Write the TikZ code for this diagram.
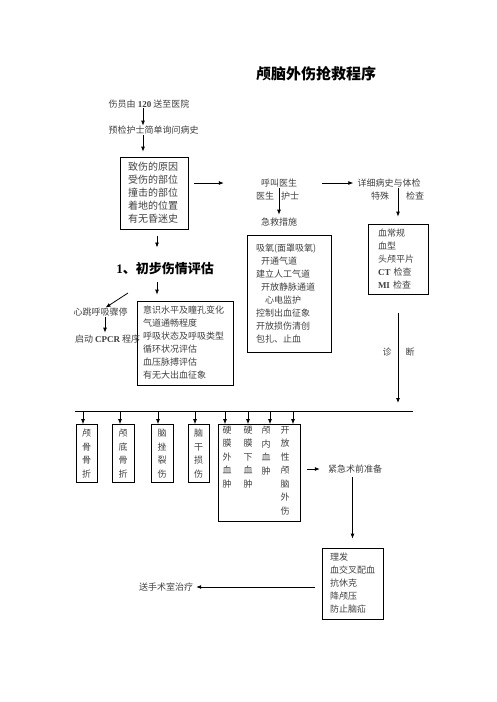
\documentclass[tikz,border=0pt]{standalone}
\usepackage{fontspec}
\setmainfont{Noto Sans CJK SC}
\newfontfamily\lat{Liberation Serif}
\usetikzlibrary{arrows.meta,calc}
\definecolor{txt}{gray}{0.25}
\begin{document}
\begin{tikzpicture}[x=1pt,y=-1pt,
  every node/.style={inner sep=0pt, text=txt},
  lab/.style={font=\fontsize{9}{13}\selectfont},
  box/.style={draw=black, line width=0.8pt, align=left, font=\fontsize{9}{13}\selectfont},
  vbox/.style={draw=black, line width=0.8pt, align=center, font=\fontsize{9}{13.5}\selectfont},
  vcol/.style={anchor=north, align=center, font=\fontsize{9}{13.5}\selectfont},
  arr/.style={-{Latex[length=5pt,width=4pt]}, line width=0.8pt},
  ln/.style={line width=0.8pt}]
\useasboundingbox (0,0) rectangle (496,702);

% title
\node[font=\fontsize{15}{15}\selectfont\bfseries, text=black] (title) at (316,74) {颅脑外伤抢救程序};

% top flow
\node[lab] (s1) at (149,104) {伤员由 {\lat\bfseries 120} 送至医院};
\node[lab] (s2) at (153.5,130) {预检护士简单询问病史};
\coordinate (cx1) at (143,0);
\draw[arr] (s1.south -| cx1) -- (s2.north -| cx1);

\node[box, font=\fontsize{10}{13}\selectfont, minimum width=68, minimum height=72, text width=52] (b1) at (154,193)
  {致伤的原因\\受伤的部位\\撞击的部位\\着地的位置\\有无昏迷史};
\draw[arr] ([yshift=-1]s2.south -| cx1) -- ([yshift=5]b1.north -| cx1);

% call doctor
\node[lab] (hj) at (279,183) {呼叫医生};
\node[lab] (ys) at (265,196) {医生};
\node[lab] (hs) at (290,196) {护士};
\node[lab] (jj) at (279,222) {急救措施};
\draw[arr] ([xshift=6]b1.east |- hj) -- ([xshift=-37]hj.west);
\draw[arr] ([yshift=-1]hj.south) -- ([yshift=3]jj.north);

\node[box, minimum width=84, minimum height=117, text width=66] (mb) at (289,293.5)
  {吸氧(面罩吸氧)\\\hspace*{5pt}开通气道\\建立人工气道\\\hspace*{5pt}开放静脉通道\\\hspace*{9pt}心电监护\\控制出血征象\\开放损伤清创\\包扎、止血};

% detailed history
\node[lab] (xs) at (389,183) {详细病史与体检};
\node[lab] (ts) at (380,196) {特殊};
\node[lab] (jc) at (415,196) {检查};
\node[box, minimum width=60, minimum height=70, text width=40] (rb) at (398,259)
  {血常规\\血型\\头颅平片\\{\lat\bfseries CT} 检查\\{\lat\bfseries MI} 检查};
\draw[arr] ([xshift=25]hj.east) -- ([xshift=-4]xs.west);
\draw[arr] ([yshift=-1]xs.south -| rb.north) -- ([yshift=7]rb.north);

% diagnosis
\node[lab] (zd1) at (387,352) {诊};
\node[lab] (zd2) at (410,352) {断};
\coordinate (dg) at (398,403);
\draw[arr] ([yshift=-19]rb.south) -- (dg);

% preliminary assessment
\node[font=\fontsize{13}{13}\selectfont\bfseries, text=black] (pg) at (165,269) {{\lat 1}、初步伤情评估};
\coordinate (cx2) at (157,0);
\draw[arr] ([yshift=-7]b1.south -| cx2) -- ([yshift=15]pg.north -| cx2);
\node[box, minimum width=96, minimum height=84, text width=84] (ib) at (185,343)
  {意识水平及瞳孔变化\\气道通畅程度\\呼吸状态及呼吸类型\\循环状况评估\\血压脉搏评估\\有无大出血征象};
\draw[arr] ([yshift=-7]pg.south -| cx2) -- ([yshift=6]ib.north -| cx2);

\node[lab] (xt) at (100.5,312) {心跳呼吸骤停};
\node[lab, anchor=west] (cp) at (75,339) {启动 {\lat\bfseries CPCR} 程序};
\coordinate (d0) at (128,293);
\draw[arr] (d0) -- ($(xt.north)+(5,0)$);
\coordinate (cx3) at (105,0);
\draw[arr] ([yshift=-1]xt.south -| cx3) -- ([yshift=2]cp.north -| cx3);

% bus
\coordinate (busL) at (75,411.5);
\coordinate (busR) at (413,411.5);
\draw[ln] (busL) -- (busR);

\node[vbox, minimum width=21, minimum height=58] (f1) at (86.5,453.5) {颅\\骨\\骨\\折};
\node[vbox, minimum width=22, minimum height=58] (f2) at (123,453.5) {颅\\底\\骨\\折};
\node[vbox, minimum width=22, minimum height=58] (f3) at (162,453.5) {脑\\挫\\裂\\伤};
\node[vbox, minimum width=21, minimum height=58] (f4) at (198.5,453.5) {脑\\干\\损\\伤};
\node[draw=black, line width=0.8pt, minimum width=82, minimum height=97] (bb) at (259,473) {};
\node[vcol] (c1) at (227,426) {硬\\膜\\外\\血\\肿};
\node[vcol] (c2) at (248,426) {硬\\膜\\下\\血\\肿};
\node[vcol] (c3) at (266,426) {颅\\内\\血\\肿};
\node[vcol] (c4) at (285,426) {开\\放\\性\\颅\\脑\\外\\伤};

\coordinate (t1) at (83,411.5);
\coordinate (t2) at (120,411.5);
\coordinate (t3) at (158,411.5);
\coordinate (t4) at (195,411.5);
\coordinate (t5) at (225,411.5);
\coordinate (t6) at (248,411.5);
\coordinate (t7) at (270,411.5);
\coordinate (t8) at (293,411.5);
\draw[arr] (t1) -- (t1 |- f1.north);
\draw[arr] (t2) -- (t2 |- f2.north);
\draw[arr] (t3) -- (t3 |- f3.north);
\draw[arr] (t4) -- (t4 |- f4.north);
\draw[arr] (t5) -- (t5 |- bb.north);
\draw[arr] (t6) -- (t6 |- bb.north);
\draw[arr] (t7) -- (t7 |- bb.north);
\draw[arr] (t8) -- (t8 |- bb.north);

% emergency preparation
\node[lab] (jz) at (355,469) {紧急术前准备};
\draw[arr] ([xshift=7]bb.east |- jz) -- ([xshift=-8]jz.west);
\node[box, minimum width=61, minimum height=71, text width=45] (pb) at (352.5,583.5)
  {理发\\血交叉配血\\抗休克\\降颅压\\防止脑疝};
\draw[arr] ([yshift=-4]jz.south -| pb.north) -- ([yshift=9]pb.north);

\node[lab] (ss) at (166,587) {送手术室治疗};
\draw[arr] ([xshift=-7]pb.west |- ss) -- ([xshift=3]ss.east);
\end{tikzpicture}
\end{document}
